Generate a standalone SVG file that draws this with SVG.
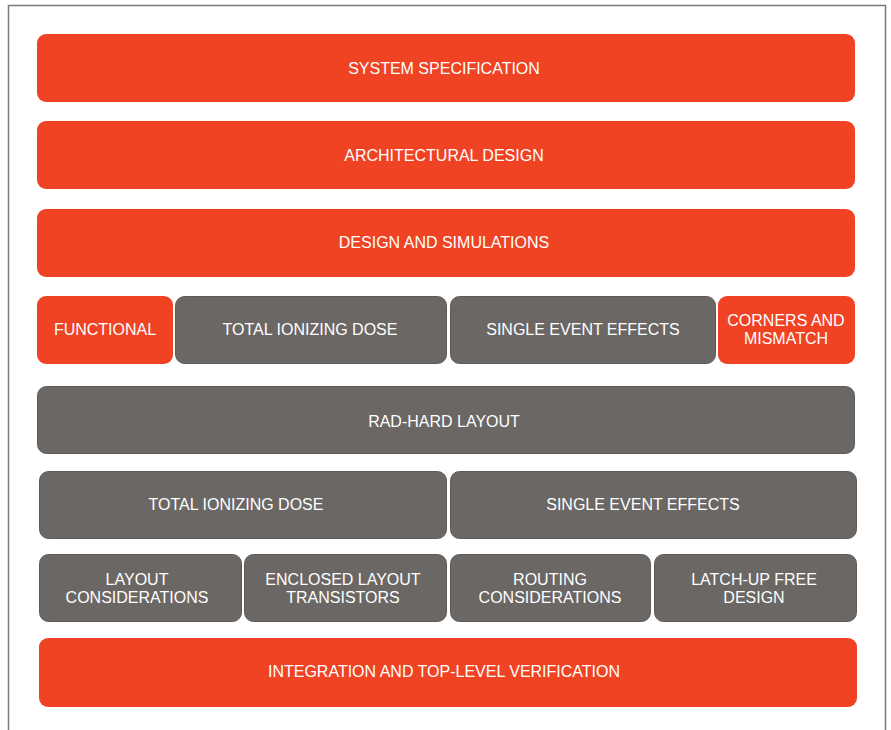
<svg xmlns="http://www.w3.org/2000/svg" width="891" height="730" viewBox="0 0 891 730">
  <style>
    .orange { fill: #ef4323; }
    .grey { fill: #6b6765; stroke: #5e5a58; stroke-width: 1; }
    .label { fill: #ffffff; font-family: "Liberation Sans", Arial, sans-serif; font-size: 16px; text-anchor: middle; }
  </style>
  <rect x="0" y="0" width="891" height="730" fill="#ffffff"/>
  <!-- outer frame, open at the bottom -->
  <path d="M8.5 730 V5.5 H885.5 V730" fill="none" stroke="#7a7a7a" stroke-width="1.5"/>

  <g id="system-specification">
    <rect class="orange" x="37" y="34" width="818" height="68" rx="9"/>
    <text class="label" x="444" y="74">SYSTEM SPECIFICATION</text>
  </g>
  <g id="architectural-design">
    <rect class="orange" x="37" y="121" width="818" height="68" rx="9"/>
    <text class="label" x="444" y="161">ARCHITECTURAL DESIGN</text>
  </g>
  <g id="design-and-simulations">
    <rect class="orange" x="37" y="209" width="818" height="68" rx="9"/>
    <text class="label" x="444" y="248">DESIGN AND SIMULATIONS</text>
  </g>

  <g id="functional">
    <rect class="orange" x="37" y="296" width="136" height="68" rx="9"/>
    <text class="label" x="105" y="335">FUNCTIONAL</text>
  </g>
  <g id="sim-total-ionizing-dose">
    <rect class="grey" x="175.5" y="296.5" width="271" height="67" rx="9"/>
    <text class="label" x="310" y="335">TOTAL IONIZING DOSE</text>
  </g>
  <g id="sim-single-event-effects">
    <rect class="grey" x="450.5" y="296.5" width="265" height="67" rx="9"/>
    <text class="label" x="583" y="335">SINGLE EVENT EFFECTS</text>
  </g>
  <g id="corners-and-mismatch">
    <rect class="orange" x="718" y="296" width="137" height="68" rx="9"/>
    <text class="label" x="786" y="326">CORNERS AND</text>
    <text class="label" x="786" y="344">MISMATCH</text>
  </g>

  <g id="rad-hard-layout">
    <rect class="grey" x="37.5" y="386.5" width="817" height="67" rx="9"/>
    <text class="label" x="444" y="427">RAD-HARD LAYOUT</text>
  </g>

  <g id="layout-total-ionizing-dose">
    <rect class="grey" x="39.5" y="471.5" width="407" height="67" rx="9"/>
    <text class="label" x="236" y="510">TOTAL IONIZING DOSE</text>
  </g>
  <g id="layout-single-event-effects">
    <rect class="grey" x="450.5" y="471.5" width="406" height="67" rx="9"/>
    <text class="label" x="643" y="510">SINGLE EVENT EFFECTS</text>
  </g>

  <g id="layout-considerations">
    <rect class="grey" x="39.5" y="554.5" width="202" height="67" rx="9"/>
    <text class="label" x="137" y="585">LAYOUT</text>
    <text class="label" x="137" y="603">CONSIDERATIONS</text>
  </g>
  <g id="enclosed-layout-transistors">
    <rect class="grey" x="244.5" y="554.5" width="202" height="67" rx="9"/>
    <text class="label" x="343" y="585">ENCLOSED LAYOUT</text>
    <text class="label" x="343" y="603">TRANSISTORS</text>
  </g>
  <g id="routing-considerations">
    <rect class="grey" x="450.5" y="554.5" width="200" height="67" rx="9"/>
    <text class="label" x="550" y="585">ROUTING</text>
    <text class="label" x="550" y="603">CONSIDERATIONS</text>
  </g>
  <g id="latch-up-free-design">
    <rect class="grey" x="654.5" y="554.5" width="202" height="67" rx="9"/>
    <text class="label" x="754" y="585">LATCH-UP FREE</text>
    <text class="label" x="754" y="603">DESIGN</text>
  </g>

  <g id="integration-and-verification">
    <rect class="orange" x="39" y="638" width="818" height="69" rx="9"/>
    <text class="label" x="444" y="677">INTEGRATION AND TOP-LEVEL VERIFICATION</text>
  </g>

  <!-- the stack has no connectors -->
  <g id="connectors"/>
</svg>
